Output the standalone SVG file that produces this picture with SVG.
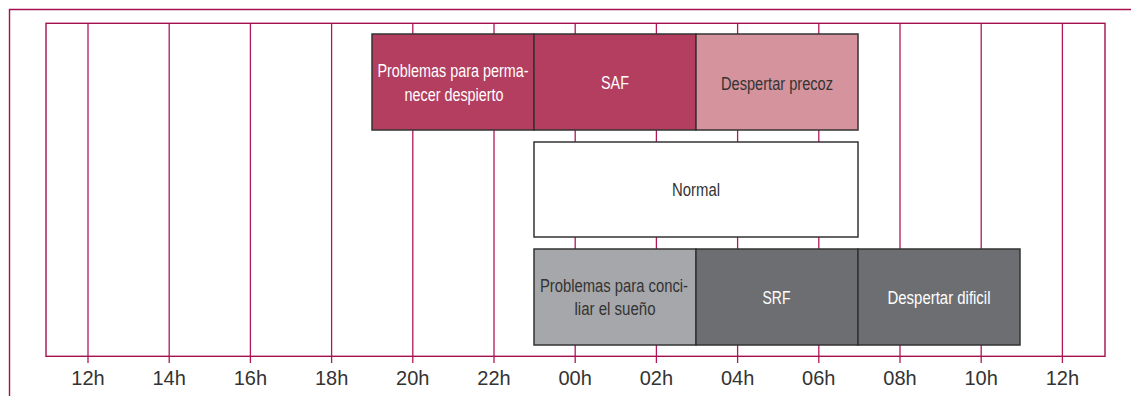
<svg xmlns="http://www.w3.org/2000/svg" width="1131" height="396" viewBox="0 0 1131 396">
<style>
.frame{fill:none;stroke:#a5104f;stroke-width:1.4}
.grid{stroke:#b0185a;stroke-width:1.3}
.box{stroke:#333;stroke-width:1.5}
.t{font-family:"Liberation Sans",Arial,sans-serif;font-size:17.5px;text-anchor:middle}
.w{fill:#fff}
.d{fill:#333}
.ax{font-family:"Liberation Sans",Arial,sans-serif;font-size:20px;fill:#333;text-anchor:middle}
</style>
<rect width="1131" height="396" fill="#fff"/>
<path class="frame" d="M9.5,396 V9.5 H1131"/>
<g id="grid">
<g class="grid">
<line x1="88" y1="23" x2="88" y2="363"/>
<line x1="169.2" y1="23" x2="169.2" y2="363"/>
<line x1="250.4" y1="23" x2="250.4" y2="363"/>
<line x1="331.6" y1="23" x2="331.6" y2="363"/>
<line x1="412.8" y1="23" x2="412.8" y2="363"/>
<line x1="494" y1="23" x2="494" y2="363"/>
<line x1="575.2" y1="23" x2="575.2" y2="363"/>
<line x1="656.4" y1="23" x2="656.4" y2="363"/>
<line x1="737.6" y1="23" x2="737.6" y2="363"/>
<line x1="818.8" y1="23" x2="818.8" y2="363"/>
<line x1="900" y1="23" x2="900" y2="363"/>
<line x1="981.2" y1="23" x2="981.2" y2="363"/>
<line x1="1062.4" y1="23" x2="1062.4" y2="363"/>
</g>
<rect class="frame" x="46" y="23.3" width="1059" height="333"/>
<g class="ax">
<text x="88" y="385">12h</text>
<text x="169.2" y="385">14h</text>
<text x="250.4" y="385">16h</text>
<text x="331.6" y="385">18h</text>
<text x="412.8" y="385">20h</text>
<text x="494" y="385">22h</text>
<text x="575.2" y="385">00h</text>
<text x="656.4" y="385">02h</text>
<text x="737.6" y="385">04h</text>
<text x="818.8" y="385">06h</text>
<text x="900" y="385">08h</text>
<text x="981.2" y="385">10h</text>
<text x="1062.4" y="385">12h</text>
</g>
</g>
<g id="permanecer">
<rect class="box" x="372" y="34" width="162" height="96" fill="#b33e5f"/>
<text class="t w" x="453" y="77" textLength="151" lengthAdjust="spacingAndGlyphs">Problemas para perma-</text>
<text class="t w" x="454" y="101" textLength="99" lengthAdjust="spacingAndGlyphs">necer despierto</text>
</g>
<g id="saf">
<rect class="box" x="534" y="34" width="162" height="96" fill="#b33e5f"/>
<text class="t w" x="615" y="89" textLength="28" lengthAdjust="spacingAndGlyphs">SAF</text>
</g>
<g id="precoz">
<rect class="box" x="696" y="34" width="162" height="96" fill="#d5949d"/>
<text class="t d" x="777" y="90" textLength="112" lengthAdjust="spacingAndGlyphs">Despertar precoz</text>
</g>
<g id="normal">
<rect class="box" x="534" y="142" width="324" height="95" fill="#fff"/>
<text class="t d" x="696" y="196" textLength="48" lengthAdjust="spacingAndGlyphs">Normal</text>
</g>
<g id="conciliar">
<rect class="box" x="534" y="249" width="162" height="96" fill="#a6a7aa"/>
<text class="t d" x="614" y="292" textLength="148" lengthAdjust="spacingAndGlyphs">Problemas para conci-</text>
<text class="t d" x="615" y="315" textLength="81" lengthAdjust="spacingAndGlyphs">liar el sueño</text>
</g>
<g id="srf">
<rect class="box" x="696" y="249" width="162" height="96" fill="#6d6e72"/>
<text class="t w" x="776.5" y="304" textLength="28" lengthAdjust="spacingAndGlyphs">SRF</text>
</g>
<g id="dificil">
<rect class="box" x="858" y="249" width="162" height="96" fill="#6d6e72"/>
<text class="t w" x="939" y="304" textLength="103" lengthAdjust="spacingAndGlyphs">Despertar dificil</text>
</g>
<g id="connectors"></g>
</svg>
